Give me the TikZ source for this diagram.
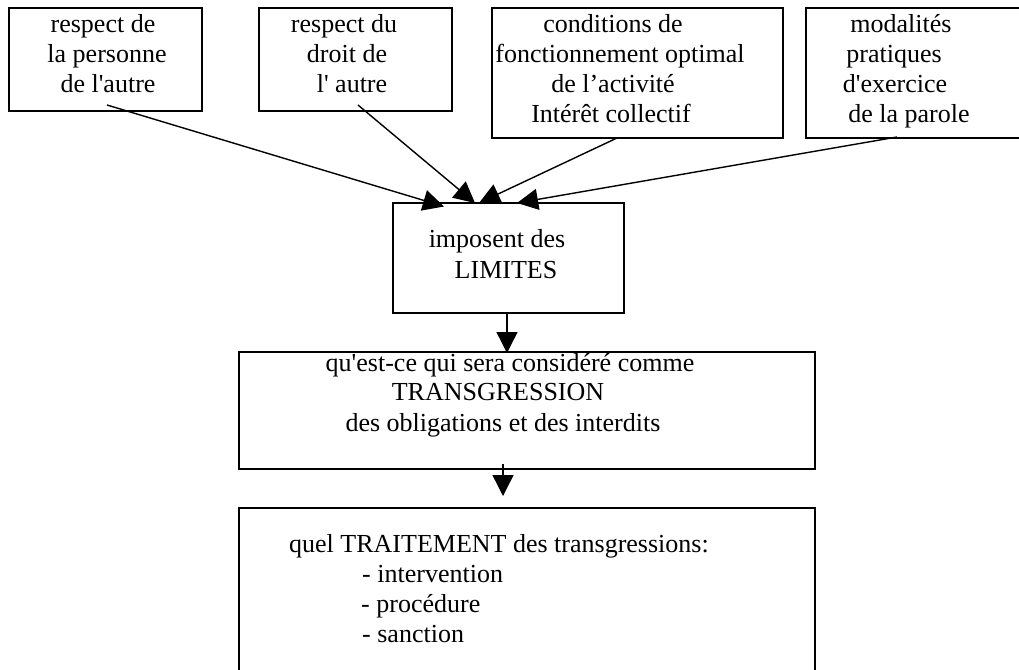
\documentclass[tikz,border=0pt]{standalone}
\usepackage{fontspec}
\newfontfamily\tnr{Liberation Serif}
\usetikzlibrary{arrows.meta}
\begin{document}
\begin{tikzpicture}[x=1pt,y=-1pt,
  box/.style={draw,line width=1.6pt,inner sep=0pt,anchor=north west},
  txt/.style={anchor=base,inner sep=0pt,font=\tnr\fontsize{26}{30}\selectfont},
  txtl/.style={txt,anchor=base west},
  arr/.style={line width=1.4pt,-{Triangle[length=21pt,width=21pt]}}]
\useasboundingbox (0,0) rectangle (1019,669);
\clip (0,0) rectangle (1019,669);
% boxes
\node[box,minimum width=193pt,minimum height=103pt] (b1) at (8,7) {};
\node[box,minimum width=193pt,minimum height=103pt] (b2) at (258,7) {};
\node[box,minimum width=291pt,minimum height=130pt] (b3) at (491,7) {};
\node[box,minimum width=240pt,minimum height=130pt] (b4) at (805,7) {};
\node[box,minimum width=231pt,minimum height=110pt] (lim) at (392,202) {};
\node[box,minimum width=576pt,minimum height=117pt] (tr) at (238,351) {};
\node[box,minimum width=576pt,minimum height=190pt] (trt) at (238,507) {};
% texts
\node[txt] (t11) at (103,32.5) {respect de};
\node[txt] (t12) at (107,62.5) {la personne};
\node[txt] (t13) at (108,92.5) {de l'autre};
\node[txt] (t21) at (344,32.5) {respect du};
\node[txt] (t22) at (347,62.5) {droit de};
\node[txt] (t23) at (352,92.5) {l' autre};
\node[txt] (t31) at (613,32.5) {conditions de};
\node[txt] (t32) at (620,62.5) {fonctionnement optimal};
\node[txt] (t33) at (613,92.5) {de l’activité};
\node[txt] (t34) at (611,122.5) {Intérêt collectif};
\node[txt] (t41) at (901,32.5) {modalités};
\node[txt] (t42) at (894,62.5) {pratiques};
\node[txt] (t43) at (895,92.5) {d'exercice};
\node[txt] (t44) at (909,122.5) {de la parole};
\node[txt] (tl1) at (497,247) {imposent des};
\node[txt] (tl2) at (506,278) {LIMITES};
\node[txt] (tt1) at (510,371) {qu'est-ce qui sera considéré comme};
\node[txt] (tt2) at (498,400) {TRANSGRESSION};
\node[txt] (tt3) at (503,431) {des obligations et des interdits};
\node[txtl] (tr1) at (289,552) {quel TRAITEMENT des transgressions:};
\node[txtl] (tr2) at (362,582) {- intervention};
\node[txtl] (tr3) at (361,612) {- procédure};
\node[txtl] (tr4) at (362,642) {- sanction};
% connector ends
\coordinate (s1) at (107,105);
\coordinate (e1) at (444,206.5);
\coordinate (s2) at (358,105);
\coordinate (e2) at (475,203);
\coordinate (s3) at (617,138);
\coordinate (e3) at (479,203);
\coordinate (s4) at (897,137);
\coordinate (e4) at (517,203);
\coordinate (s5) at (507,312);
\coordinate (e5) at (507,353);
\coordinate (s6) at (503,464);
\coordinate (e6) at (503,496);
\draw[arr] (s1) -- (e1);
\draw[arr] (s2) -- (e2);
\draw[arr] (s3) -- (e3);
\draw[arr] (s4) -- (e4);
\draw[arr] (s5) -- (e5);
\draw[arr] (s6) -- (e6);
\end{tikzpicture}
\end{document}
